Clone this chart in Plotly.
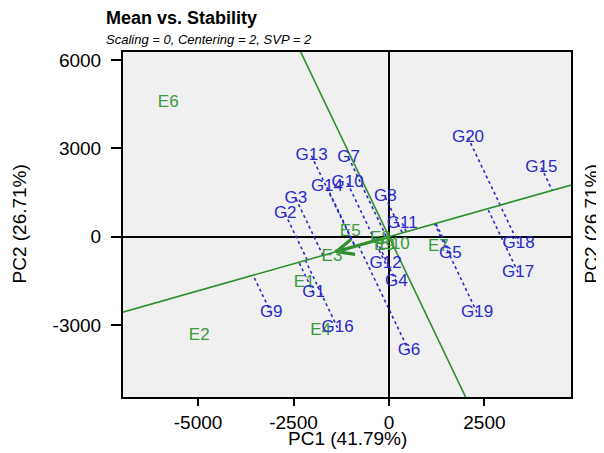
import plotly.graph_objects as go
import numpy as np

# ---- data ----
genotypes = ["G1", "G2", "G3", "G4", "G5", "G6", "G7", "G8", "G9", "G10",
             "G11", "G12", "G13", "G14", "G15", "G16", "G17", "G18", "G19", "G20"]
g_pc1 = [-1975, -2717, -2437, 191, 1606, 524, -1058, -97, -3084, -1085,
         348, -89, -2028, -1624, 3990, -1347, 3380, 3396, 2306, 2070]
g_pc2 = [-1909, 770, 1288, -1536, -576, -3888, 2688, 1346, -2600, 1820,
         451, -915, 2746, 1685, 2349, -3095, -1210, -247, -2576, 3366]

environments = ["E1", "E2", "E3", "E4", "E5", "E6", "E7", "E8", "E9", "E10"]
e_pc1 = [-2219, -4970, -1493, -1792, -1014, -5782, 1292, -228, -123, 150]
e_pc2 = [-1570, -3356, -688, -3187, 159, 4543, -349, -80, -300, -290]

# average environment coordinate (arrow tip)
aec_pc1 = -1380
aec_pc2 = -508

x_ticks = [-5000, -2500, 0, 2500]
y_ticks = [-3000, 0, 3000, 6000]
x_range = [-6966, 4767]
y_range = [-5450, 6280]

title_text = "Mean vs. Stability"
subtitle_text = "Scaling = 0, Centering = 2, SVP = 2"
x_title = "PC1 (41.79%)"
y_title = "PC2 (26.71%)"

# ---- layout constants (figure is offset 8px by the page body margin) ----
W, H = 596, 445
ML, MR, MT, MB = 115, 33, 44, 56
plot_w = W - ML - MR
plot_h = H - MT - MB
sx = (x_range[1] - x_range[0]) / plot_w   # data units per pixel
sy = (y_range[1] - y_range[0]) / plot_h

# ---- derived geometry ----
u = np.array([aec_pc1, aec_pc2], dtype=float)
u = u / np.linalg.norm(u)
v = np.array([-u[1], u[0]])
T = 40000

BLUE = "#2a2ac8"
GREEN_TXT = "#3c9a3c"
GREEN_LINE = "#2f8f2f"
FONT = "Liberation Sans, Arial, sans-serif"

fig = go.Figure()

# projection lines (dotted)
px, py = [], []
for gx, gy in zip(g_pc1, g_pc2):
    t = gx * u[0] + gy * u[1]
    px += [gx, t * u[0], None]
    py += [gy, t * u[1], None]
fig.add_trace(go.Scatter(x=px, y=py, mode="lines",
                         line=dict(color=BLUE, width=1.6, dash="dot"),
                         hoverinfo="skip", showlegend=False))

# ATC abscissa and ordinate
fig.add_trace(go.Scatter(x=[-T * u[0], T * u[0]], y=[-T * u[1], T * u[1]], mode="lines",
                         line=dict(color=GREEN_LINE, width=1.6), hoverinfo="skip", showlegend=False))
fig.add_trace(go.Scatter(x=[-T * v[0], T * v[0]], y=[-T * v[1], T * v[1]], mode="lines",
                         line=dict(color=GREEN_LINE, width=1.6), hoverinfo="skip", showlegend=False))

# arrow toward the average environment: shaft + open V head (built in pixel space)
tip_px = np.array([aec_pc1 / sx, -aec_pc2 / sy])        # pixel offset from origin (y down)
d = -tip_px / np.linalg.norm(tip_px)                     # direction back toward origin
wing_len, ang = 19.0, np.deg2rad(24)
wings = []
for s in (1, -1):
    c, sn = np.cos(s * ang), np.sin(s * ang)
    w = np.array([c * d[0] - sn * d[1], sn * d[0] + c * d[1]]) * wing_len
    wp = tip_px + w
    wings.append((wp[0] * sx, -wp[1] * sy))
fig.add_trace(go.Scatter(x=[0, aec_pc1], y=[0, aec_pc2], mode="lines",
                         line=dict(color=GREEN_LINE, width=3.2), hoverinfo="skip", showlegend=False))
fig.add_trace(go.Scatter(x=[wings[0][0], aec_pc1, wings[1][0]], y=[wings[0][1], aec_pc2, wings[1][1]],
                         mode="lines", line=dict(color=GREEN_LINE, width=3.2),
                         hoverinfo="skip", showlegend=False))

# labels
fig.add_trace(go.Scatter(x=e_pc1, y=e_pc2, text=environments, mode="text",
                         textfont=dict(color=GREEN_TXT, size=17, family=FONT),
                         textposition="middle center", showlegend=False, cliponaxis=False))
fig.add_trace(go.Scatter(x=g_pc1, y=g_pc2, text=genotypes, mode="text",
                         textfont=dict(color=BLUE, size=17, family=FONT),
                         textposition="middle center", showlegend=False, cliponaxis=False))

# titles
fig.add_annotation(x=0, y=1, xref="paper", yref="paper", xanchor="left", yanchor="bottom",
                   xshift=-19, yshift=22, text="<b>" + title_text + "</b>", showarrow=False,
                   font=dict(size=18, color="black", family=FONT))
fig.add_annotation(x=0, y=1, xref="paper", yref="paper", xanchor="left", yanchor="bottom",
                   xshift=-19, yshift=3, text="<i>" + subtitle_text + "</i>", showarrow=False,
                   font=dict(size=13, color="black", family=FONT))
fig.add_annotation(x=1, y=0.5, xref="paper", yref="paper", xanchor="center", yanchor="middle",
                   xshift=20, text=y_title, textangle=-90, showarrow=False,
                   font=dict(size=19, color="black", family=FONT))
fig.add_annotation(x=0, y=0.5, xref="paper", yref="paper", xanchor="center", yanchor="middle",
                   xshift=-104, text=y_title, textangle=-90, showarrow=False,
                   font=dict(size=19, color="black", family=FONT))
fig.add_annotation(x=0.5, y=0, xref="paper", yref="paper", xanchor="center", yanchor="middle",
                   yshift=-41, text=x_title, showarrow=False,
                   font=dict(size=19, color="black", family=FONT))

axis_common = dict(showgrid=False, zeroline=True, zerolinecolor="black", zerolinewidth=2,
                   showline=True, linecolor="black", linewidth=2, mirror=True,
                   ticks="outside", tickwidth=2, tickcolor="black",
                   tickfont=dict(size=19, color="black", family=FONT), automargin=False)

fig.update_xaxes(range=x_range, tickvals=x_ticks, ticktext=[str(t) for t in x_ticks],
                 ticklen=7, **axis_common)
fig.update_yaxes(range=y_range, tickvals=y_ticks, ticktext=[str(t) for t in y_ticks],
                 ticklen=10, ticklabelstandoff=6, **axis_common)

fig.update_layout(width=W, height=H, margin=dict(l=ML, r=MR, t=MT, b=MB, autoexpand=False),
                  plot_bgcolor="#f0f0f0", paper_bgcolor="white", showlegend=False,
                  font=dict(family=FONT))

fig.write_html("out.html")
